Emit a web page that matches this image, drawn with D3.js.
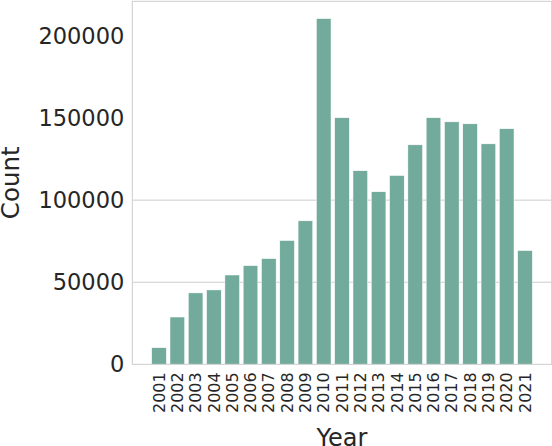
<!DOCTYPE html>
<html>
<head>
<meta charset="utf-8">
<script src="https://cdn.jsdelivr.net/npm/d3@7"></script>
<style>
  html, body { margin: 0; padding: 0; background: #fff; }
  svg { display: block; font-family: "DejaVu Sans", sans-serif; }
</style>
</head>
<body>
<svg id="chart" width="552" height="446"></svg>
<script>
// counts per year
const years = ["2001","2002","2003","2004","2005","2006","2007","2008","2009","2010",
               "2011","2012","2013","2014","2015","2016","2017","2018","2019","2020","2021"];
const counts = [10100, 28800, 43500, 45300, 54400, 60100, 64400, 75400, 87400, 210600,
                150200, 117900, 105100, 115000, 133700, 150200, 147700, 146500, 134300, 143500, 69300];
const yTicks = [0, 50000, 100000, 150000, 200000];
const gridTicks = [50000, 100000];

const margin = {top: 1.3, right: 0.3, bottom: 81.7, left: 132.3};
const width = 552, height = 446;

const svg = d3.select('#chart');

const x = d3.scaleBand()
    .domain(years)
    .range([margin.left, width - margin.right])
    .paddingInner(0.2)
    .paddingOuter(1.06);

const y = d3.scaleLinear()
    .domain([0, d3.max(counts) * 1.05])
    .range([height - margin.bottom, margin.top]);

// grid
svg.append("g")
    .selectAll("line")
    .data(gridTicks)
    .join("line")
    .attr("x1", margin.left).attr("x2", width - margin.right)
    .attr("y1", d => y(d)).attr("y2", d => y(d))
    .attr("stroke", "#cccccc").attr("stroke-width", 1);

// bars
svg.append("g")
    .selectAll("rect")
    .data(years)
    .join("rect")
    .attr("x", d => x(d))
    .attr("width", x.bandwidth())
    .attr("y", (d, i) => y(counts[i]))
    .attr("height", (d, i) => y(0) - y(counts[i]))
    .attr("fill", "#72aa9c")
    .attr("stroke", "#ffffff")
    .attr("stroke-width", 0.5);

// frame
svg.append("rect")
    .attr("x", margin.left).attr("y", margin.top)
    .attr("width", width - margin.right - margin.left)
    .attr("height", height - margin.bottom - margin.top)
    .attr("fill", "none").attr("stroke", "#cccccc").attr("stroke-width", 1);

// y axis
svg.append("g")
    .attr("transform", `translate(${margin.left},0)`)
    .call(d3.axisLeft(y).tickValues(yTicks).tickSize(0).tickPadding(8).tickFormat(d3.format("d")))
    .call(g => g.select(".domain").remove())
    .call(g => g.selectAll("text")
        .attr("fill", "#262626")
        .style("font-size", "22.5px")
        .style("font-family", "DejaVu Sans"));

// x axis
svg.append("g")
    .attr("transform", `translate(0,${height - margin.bottom})`)
    .call(d3.axisBottom(x).tickSize(0).tickPadding(0))
    .call(g => g.select(".domain").remove())
    .call(g => g.selectAll("text")
        .attr("fill", "#262626")
        .attr("transform", "rotate(-90)")
        .attr("text-anchor", "end")
        .attr("x", -8)
        .attr("y", 0)
        .attr("dy", "0.35em")
        .style("font-size", "16px")
        .style("font-family", "DejaVu Sans"));

// axis titles
svg.append("text")
    .attr("x", (margin.left + width - margin.right) / 2)
    .attr("y", 446)
    .attr("text-anchor", "middle")
    .attr("fill", "#262626")
    .style("font-size", "24px")
    .text("Year");

svg.append("text")
    .attr("transform", `translate(19,${(margin.top + height - margin.bottom) / 2}) rotate(-90)`)
    .attr("text-anchor", "middle")
    .attr("fill", "#262626")
    .style("font-size", "24.5px")
    .text("Count");
</script>
</body>
</html>
